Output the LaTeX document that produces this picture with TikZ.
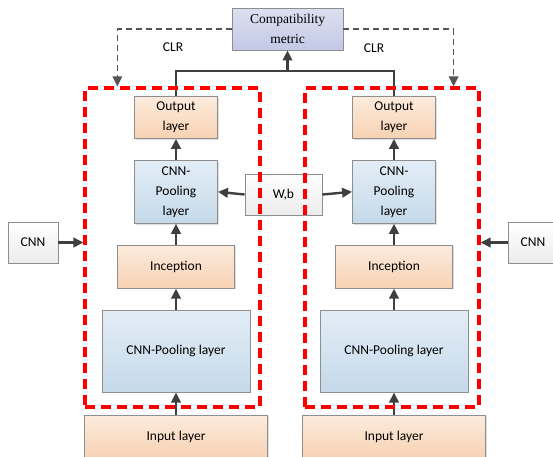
\documentclass[tikz,border=0pt]{standalone}
\usepackage{fontspec}
\setmainfont{Carlito}
\newfontfamily\metricfont{Liberation Serif}
\usetikzlibrary{arrows.meta, positioning, shadows}

\definecolor{peachtop}{HTML}{FCEBDD}
\definecolor{peachbot}{HTML}{F7D2B3}
\definecolor{bluetop}{HTML}{E2EDF6}
\definecolor{bluebot}{HTML}{C5D9EA}
\definecolor{lavtop}{HTML}{DCE0F2}
\definecolor{lavbot}{HTML}{C3C9E5}
\definecolor{graybot}{HTML}{EBEBEB}
\definecolor{boxgray}{HTML}{8E8E8E}
\definecolor{arrowgray}{HTML}{3F3F3F}
\definecolor{dashgray}{HTML}{555555}

\begin{document}
\begin{tikzpicture}[
	x=1pt, y=-1pt,
	node distance = 21pt,
	>={Triangle[length=10pt,width=9.5pt]},
	font=\fontsize{13.5}{20}\selectfont,
	box/.style    = {draw=boxgray, line width=0.9pt, align=center, inner sep=2pt,
	                 drop shadow={shadow xshift=1.2pt, shadow yshift=-1.2pt, opacity=0.25}},
	layer/.style  = {box, top color=peachtop, bottom color=peachbot},
	pool/.style   = {box, top color=bluetop, bottom color=bluebot},
	plain/.style  = {box, top color=white, bottom color=graybot},
	link/.style   = {->, line width=2.4pt, draw=arrowgray},
	clr/.style    = {->, line width=1.7pt, draw=dashgray, dash pattern=on 6pt off 4pt},
	group/.style  = {draw=red, line width=3.2pt, dash pattern=on 10pt off 6pt}
	]
	
	\useasboundingbox (0,0) rectangle (553,456);
	
	%% ── Left branch ───────────────────────────────────────────────
	\node [layer, minimum width=183pt, minimum height=43pt] (inL) at (176,436.5) {Input layer};
	\node [pool,  minimum width=148pt, minimum height=82pt, above=22pt of inL] (cpL)   {CNN-Pooling layer};
	\node [layer, minimum width=117pt, minimum height=43pt, above=of cpL]     (incL)  {Inception};
	\node [pool,  minimum width=83pt,  minimum height=63pt, above=of incL]    (poolL) {CNN-\\Pooling\\layer};
	\node [layer, minimum width=83pt,  minimum height=42pt, above=of poolL]   (outL)  {Output\\layer};
	
	%% ── Right branch ──────────────────────────────────────────────
	\node [layer, minimum width=183pt, minimum height=43pt] (inR) at (394,436.5) {Input layer};
	\node [pool,  minimum width=148pt, minimum height=82pt, above=22pt of inR] (cpR)   {CNN-Pooling layer};
	\node [layer, minimum width=117pt, minimum height=43pt, above=of cpR]     (incR)  {Inception};
	\node [pool,  minimum width=83pt,  minimum height=63pt, above=of incR]    (poolR) {CNN-\\Pooling\\layer};
	\node [layer, minimum width=83pt,  minimum height=42pt, above=of poolR]   (outR)  {Output\\layer};
	
	% shared weights and side inputs
	\node [plain, minimum width=77pt, minimum height=41pt] (wb)   at (283.5,194.5) {W,b};
	\node [plain, minimum width=50pt, minimum height=41pt] (cnnL) at (33,242.5)    {CNN};
	\node [plain, minimum width=50pt, minimum height=41pt] (cnnR) at (533,242.5)   {CNN};
	
	% metric on top
	\node [box, top color=lavtop, bottom color=lavbot, minimum width=111pt, minimum height=42pt,
	font=\metricfont\fontsize{13.5}{20}\selectfont] (metric) at (287.5,29) {Compatibility\\metric};
	\node (clrL) at (173,47) {CLR};
	\node (clrR) at (374,48) {CLR};
	
	%% ── Forward path ──────────────────────────────────────────────
	\draw [link] (inL.north)   -- (cpL.south);
	\draw [link] (cpL.north)   -- (incL.south);
	\draw [link] (incL.north)  -- (poolL.south);
	\draw [link] (poolL.north) -- (outL.south);
	\draw [link] (inR.north)   -- (cpR.south);
	\draw [link] (cpR.north)   -- (incR.south);
	\draw [link] (incR.north)  -- (poolR.south);
	\draw [link] (poolR.north) -- (outR.south);
	
	\draw [link] (wb.west) -- (poolL.east);
	\draw [link] (wb.east) -- (poolR.west);
	
	% outputs joined into the metric
	\coordinate (join) at (287.5,71);
	\draw [line width=2.4pt, arrowgray] (outL.north) |- (join) -| (outR.north);
	\draw [link] (join) -- (metric.south);
	
	%% ── Branch boxes ──────────────────────────────────────────────
	\node [group, minimum width=175pt, minimum height=319pt] (grpL) at (172.5,247.5) {};
	\node [group, minimum width=174pt, minimum height=319pt] (grpR) at (392,247.5) {};
	
	\draw [link] (cnnL.east) -- (cnnL.east -| grpL.west);
	\draw [link] (cnnR.west) -- (cnnR.west -| grpR.east);
	
	% CLR feedback
	\draw [clr] (metric.west) -| ([xshift=34pt]grpL.north west);
	\draw [clr] (metric.east) -| ([xshift=-27pt]grpR.north east);
	
\end{tikzpicture}
\end{document}
